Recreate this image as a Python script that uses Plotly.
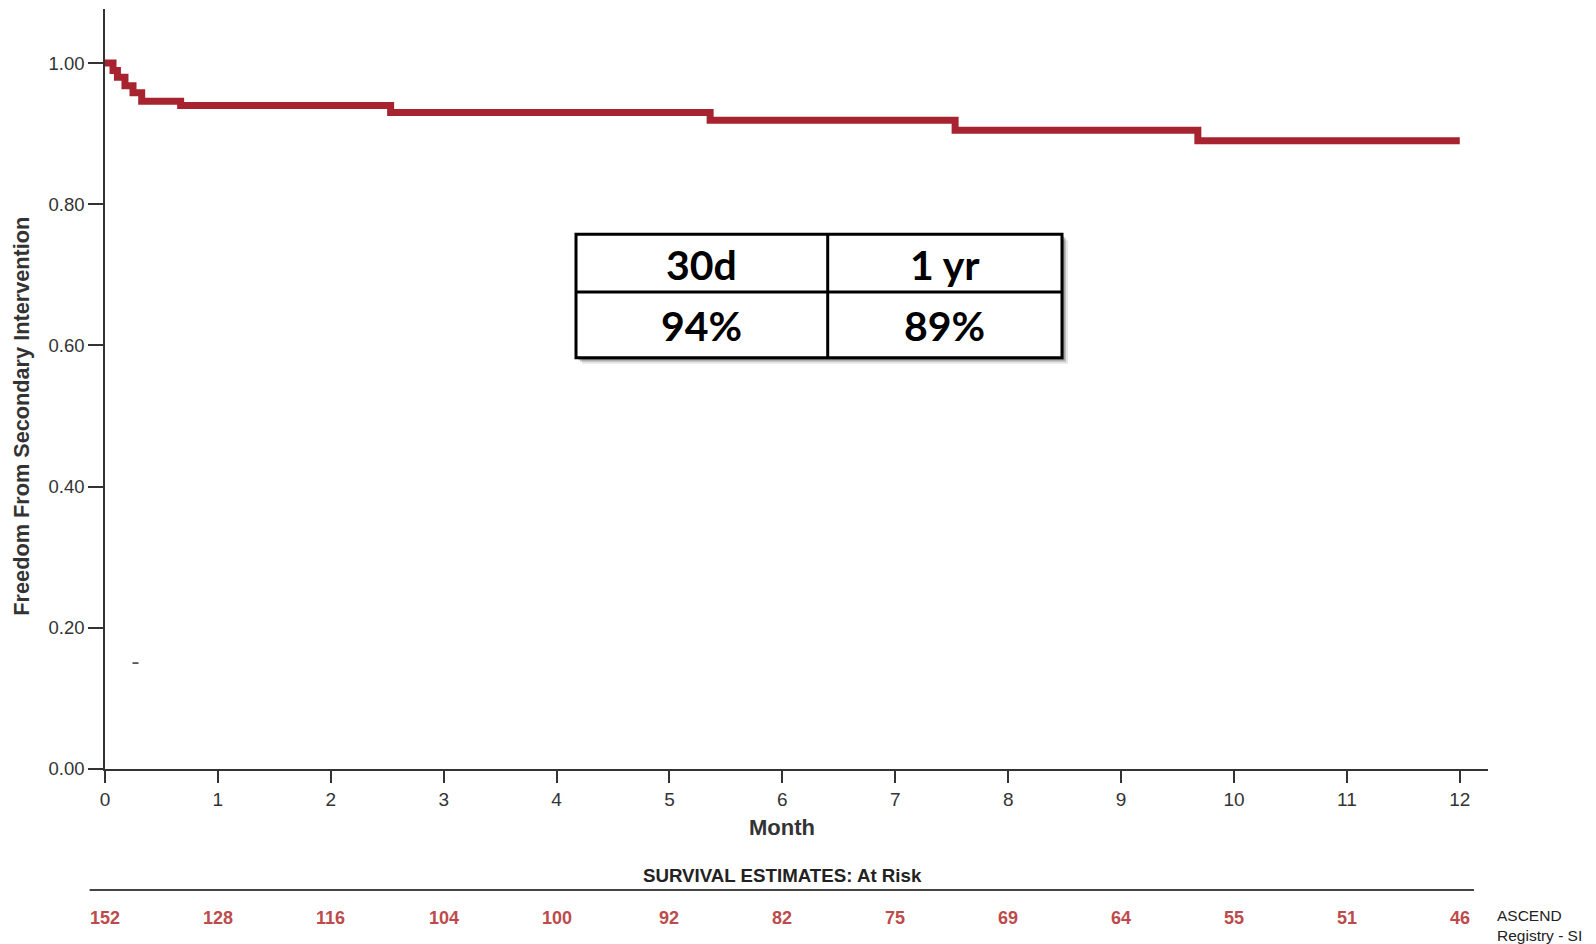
import plotly.graph_objects as go

# ---- data ----
months = [0, 0.071, 0.11, 0.177, 0.248, 0.325, 0.67, 2.53, 5.36, 7.53, 9.68, 12.0]
survival = [1.0, 0.9895, 0.980, 0.968, 0.958, 0.946, 0.940, 0.930, 0.919, 0.905, 0.890, 0.890]

tick_months = list(range(0, 13))
at_risk = [152, 128, 116, 104, 100, 92, 82, 75, 69, 64, 55, 51, 46]

table_header = ["30d", "1 yr"]
table_values = ["94%", "89%"]

# ---- layout geometry (page pixel coords; page body has 8px margin) ----
OFF = 8
W, H = 1596 - OFF, 944 - OFF
ML, MR, MT, MB = 105 - OFF, 108, 1, 174.5
PW = W - ML - MR
PH = H - MT - MB


def px(x):
    return (x - OFF - ML) / PW


def py(y):
    return (H - MB - (y - OFF)) / PH


FONT = "Liberation Sans, Arial, sans-serif"
RED = "#A6232F"

fig = go.Figure()
fig.add_trace(go.Scatter(
    x=months, y=survival, mode="lines", line_shape="hv",
    line=dict(color=RED, width=7), hoverinfo="skip", showlegend=False,
))

shapes = []
annotations = []

# table with shadow
tx0, tx1, tmid = 576, 1062, 827.7
ty0, ty1, tdiv = 234.5, 358, 292.2
for off, alpha in [(6, 0.10), (4, 0.18), (2.5, 0.25)]:
    shapes.append(dict(type="rect", xref="paper", yref="paper",
                       x0=px(tx0 + off), x1=px(tx1 + off), y0=py(ty0 + off), y1=py(ty1 + off),
                       line=dict(width=0), fillcolor=f"rgba(0,0,0,{alpha})", layer="above"))
shapes.append(dict(type="rect", xref="paper", yref="paper",
                   x0=px(tx0), x1=px(tx1), y0=py(ty0), y1=py(ty1),
                   line=dict(color="black", width=3), fillcolor="white", layer="above"))
shapes.append(dict(type="line", xref="paper", yref="paper",
                   x0=px(tmid), x1=px(tmid), y0=py(ty0), y1=py(ty1),
                   line=dict(color="black", width=3), layer="above"))
shapes.append(dict(type="line", xref="paper", yref="paper",
                   x0=px(tx0), x1=px(tx1), y0=py(tdiv), y1=py(tdiv),
                   line=dict(color="black", width=3), layer="above"))
cell_x = [(tx0 + tmid) / 2, (tmid + tx1) / 2]
for i in range(2):
    annotations.append(dict(xref="paper", yref="paper", x=px(cell_x[i]), y=py((ty0 + tdiv) / 2 + 1),
                            text=f"<b>{table_header[i]}</b>", showarrow=False,
                            font=dict(family="Lato, Open Sans, sans-serif", size=41, color="black"),
                            xanchor="center", yanchor="middle"))
    annotations.append(dict(xref="paper", yref="paper", x=px(cell_x[i]), y=py((tdiv + ty1) / 2 + 1),
                            text=f"<b>{table_values[i]}</b>", showarrow=False,
                            font=dict(family="Lato, Open Sans, sans-serif", size=41, color="black"),
                            xanchor="center", yanchor="middle"))

# axis titles
annotations.append(dict(xref="x", yref="paper", x=6, y=py(828.5), text="<b>Month</b>",
                        showarrow=False, font=dict(family=FONT, size=22, color="#333"),
                        xanchor="center", yanchor="middle"))
annotations.append(dict(xref="paper", yref="paper", x=px(21.4), y=py(416.5),
                        text="<b>Freedom From Secondary Intervention</b>", textangle=-90,
                        showarrow=False, font=dict(family=FONT, size=21.7, color="#333"),
                        xanchor="center", yanchor="middle"))

# at-risk table
annotations.append(dict(xref="x", yref="paper", x=6, y=py(876.5),
                        text="<b>SURVIVAL ESTIMATES: At Risk</b>", showarrow=False,
                        font=dict(family=FONT, size=18.7, color="#222"),
                        xanchor="center", yanchor="middle"))
shapes.append(dict(type="line", xref="paper", yref="paper",
                   x0=px(89.6), x1=px(1474), y0=py(890.5), y1=py(890.5),
                   line=dict(color="#444", width=2)))
for m, n in zip(tick_months, at_risk):
    annotations.append(dict(xref="x", yref="paper", x=m, y=py(919), text=f"<b>{n}</b>",
                            showarrow=False, font=dict(family=FONT, size=18, color="#BD4B4B"),
                            xanchor="center", yanchor="middle"))
annotations.append(dict(xref="paper", yref="paper", x=px(1495), y=py(926.5),
                        text="ASCEND<br>Registry - SI", showarrow=False, align="left",
                        font=dict(family=FONT, size=15.5, color="#222"),
                        xanchor="left", yanchor="middle"))

# stray mark
shapes.append(dict(type="line", xref="paper", yref="paper",
                   x0=px(132.5), x1=px(138.5), y0=py(663.5), y1=py(663.5),
                   line=dict(color="#333", width=1.5)))

fig.update_layout(
    width=W, height=H,
    margin=dict(l=ML, r=MR, t=MT, b=MB, autoexpand=False),
    paper_bgcolor="white", plot_bgcolor="white",
    shapes=shapes, annotations=annotations, showlegend=False,
    xaxis=dict(range=[0, 12.25], tickmode="array", tickvals=tick_months,
               ticks="outside", ticklen=12, tickwidth=1.5, tickcolor="#333",
               showline=True, linecolor="#333", linewidth=1.5, showgrid=False, zeroline=False,
               tickfont=dict(family=FONT, size=19, color="#333")),
    yaxis=dict(range=[0, 1.0766], tickmode="array", tickvals=[0, 0.2, 0.4, 0.6, 0.8, 1.0],
               tickformat=".2f", ticks="outside", ticklen=15, tickwidth=1.5, tickcolor="#333",
               showline=True, linecolor="#333", linewidth=1.5, showgrid=False, zeroline=False,
               tickfont=dict(family=FONT, size=18.5, color="#333")),
)

fig.write_html("out.html")
